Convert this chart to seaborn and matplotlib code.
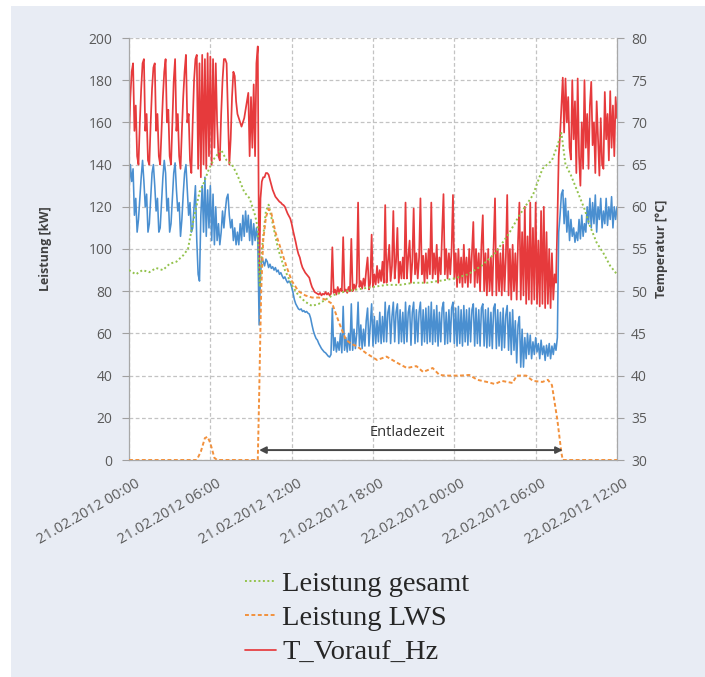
import numpy as np
import pandas as pd
import matplotlib
matplotlib.use("Agg")
import matplotlib.pyplot as plt
import seaborn as sns
from matplotlib.patches import Rectangle
from matplotlib.transforms import ScaledTranslation

# ---------------- data ----------------
xtick_hours = [0, 6, 12, 18, 24, 30, 36]
xtick_labels = ["21.02.2012 00:00", "21.02.2012 06:00", "21.02.2012 12:00",
                "21.02.2012 18:00", "22.02.2012 00:00", "22.02.2012 06:00",
                "22.02.2012 12:00"]
power_ticks = [0, 20, 40, 60, 80, 100, 120, 140, 160, 180, 200]
temp_ticks = [30, 35, 40, 45, 50, 55, 60, 65, 70, 75, 80]

# logger samples every 6 minutes (hours since 21.02.2012 00:00)
sample_hours = np.round(np.arange(361) * 0.1, 1)

t_vorauf_hz = [
    68, 73, 76, 77, 69, 72, 66, 65, 70, 74,
    77, 77.5, 69, 71, 65.5, 65, 70, 74, 76.5, 77,
    69, 71, 66, 65, 69, 73, 76, 77.5, 70, 71.5,
    66, 65, 70, 75, 77.5, 69, 71, 66, 64.5, 69,
    73, 76, 78, 70, 71, 65.5, 64, 70, 75, 77.5,
    78, 64.5, 77, 63.5, 78, 65, 77.5, 64.5, 78.2, 66,
    77.8, 65, 77.5, 67, 77, 70, 66, 65.5, 71, 75,
    77.5, 77.5, 77, 71, 65, 68, 73, 76, 75.5, 72.5,
    71, 70.5, 70, 69.5, 70, 70.5, 71.5, 72.5, 73.5, 66,
    73, 67, 74.5, 66, 77, 79, 51, 61, 63, 63.5,
    63.5, 64, 64, 63.8, 63.2, 62.6, 62, 61.6, 61.2, 61,
    60.8, 60.6, 60.5, 60.3, 60.2, 60, 59.6, 59.2, 58.9, 58.6,
    58, 57.2, 56.5, 55.8, 55, 54.4, 54, 53.3, 52.8, 52.5,
    52.2, 52, 51.8, 51.6, 51, 50.5, 50.2, 49.9, 49.8, 49.7,
    49.6, 49.8, 49.5, 49.7, 49.6, 49.9, 49.6, 49.8, 49.5, 49.7,
    55.2, 49.8, 50.2, 49.6, 50.5, 49.8, 50.3, 50, 56.4, 50,
    50.2, 49.8, 50.5, 50, 56.2, 50, 50.8, 50.2, 51, 60.5,
    50.5, 51.2, 50.3, 51.5, 50.6, 52.5, 54, 50.2, 51, 56.7,
    50.5, 52, 50.8, 53, 51, 52.5, 51.2, 53.5, 51, 60.2,
    51, 53.5, 55.5, 51.2, 53, 59.5, 51.5, 53.5, 57.5, 51,
    53.5, 51.5, 54, 51.5, 60.5, 51.5, 54, 56, 51, 53.5,
    59.8, 52, 54.5, 51.5, 54, 61, 52, 54.2, 51, 54.5,
    51.5, 55, 52, 60.5, 51.5, 54.5, 52, 55.5, 51, 54,
    52, 57, 61.5, 52, 55, 51.5, 54.5, 52, 55, 61.4,
    51.5, 54.5, 50.5, 55, 51, 54, 50.5, 55.5, 51, 54,
    50.5, 55, 51, 54.5, 58.2, 50.5, 55, 51, 54.5, 50,
    55.5, 59, 50, 54.5, 49.5, 55, 50, 54, 49.5, 55.5,
    61, 49.5, 55, 50, 54.5, 49.5, 55.5, 50, 54, 61.4,
    49.5, 55, 49, 55.5, 50, 54.5, 49, 56, 60.5, 49,
    57, 49.5, 60, 48.5, 56.5, 49, 60.5, 48.5, 57.5, 49,
    60.5, 48.5, 56, 48.2, 59.5, 48.5, 60, 48, 57, 48.5,
    55, 48, 54.5, 49, 52, 51, 58, 66, 68.5, 72,
    75.3, 68.8, 75.2, 70, 73, 67, 65.6, 75, 68, 72.5,
    64, 75.2, 66, 62.5, 70, 64.5, 75, 67, 71, 64.5,
    72, 74.8, 67.3, 70, 64, 72.5, 68, 63.7, 70.5, 65,
    64.5, 73.6, 68, 71, 65.5, 73.7, 67, 72, 66, 73,
    70.5]

t_ruecklauf = [
    62, 65, 63, 64.5, 59, 61, 57, 58.5, 61, 63.5,
    65.5, 63, 60, 61.5, 57, 58, 61, 64, 65, 62.5,
    59.5, 61, 57, 57.5, 60.5, 63.5, 65.5, 64, 59.5, 61,
    57, 58, 61, 64, 65.2, 62, 59.5, 60.5, 56.5, 58.5,
    61.5, 64, 65, 62, 59, 60.5, 57, 57.5, 60, 62.5,
    56, 52, 51.2, 59, 62.5, 57, 63.5, 56.5, 62, 57.5,
    62.5, 56, 61.5, 55.5, 60, 56, 58, 55.5, 57, 59.5,
    57.5, 59.5, 61, 61.5, 59, 57.5, 58.5, 56, 57.5, 55.5,
    57, 55.5, 58, 56, 59, 56.5, 59.5, 57, 59, 56,
    58.5, 55.5, 58, 56, 57.5, 56, 46, 52, 54, 53.5,
    53, 53.8, 53.5, 52.8, 53.2, 52.7, 52.9, 52.5, 52.8, 52.3,
    52.5, 52, 52.2, 51.8, 51.5, 51.7, 51.3, 51, 51.2, 51,
    50.5, 49.8, 49, 48.5, 48.2, 47.9, 47.8, 47.9, 47.6, 47.7,
    47.5, 47.6, 47.4, 47.3, 46.8, 46, 45.3, 44.8, 44.4, 44.2,
    43.8, 43.5, 43.2, 43, 42.8, 42.7, 42.5, 42.3, 42.2, 42.5,
    48, 43, 44.5, 42.8, 44, 43, 45, 42.7, 48.2, 43,
    44.5, 42.8, 45, 43, 48.5, 43, 45.5, 43.2, 45, 48.7,
    43.5, 46, 43.2, 45.5, 43.5, 46.5, 48, 43.5, 46, 48.5,
    43.5, 47, 43.8, 46.5, 44, 47.5, 43.8, 47, 44, 48.7,
    44, 47.5, 48.3, 43.8, 47, 48.7, 44, 47.5, 48.5, 43.8,
    47.8, 44, 47.5, 43.8, 48.7, 44, 47.5, 48.3, 43.6, 47.5,
    48.7, 43.8, 47.8, 44, 47.5, 48.7, 43.6, 47.8, 44, 48,
    43.8, 48.2, 44, 48.7, 43.7, 47.8, 44, 48.3, 43.5, 47.5,
    44, 48, 48.7, 43.7, 47.5, 43.8, 47.8, 44, 48, 48.7,
    43.8, 48, 43.5, 48.2, 43.8, 47.8, 43.5, 48.3, 44, 47.8,
    43.6, 48, 44, 47.8, 48.5, 43.5, 48, 43.8, 47.8, 43.5,
    48, 48.5, 43.5, 47.8, 43.3, 48, 43.5, 47.5, 43.2, 48,
    48.5, 43.2, 47.8, 43.5, 47.5, 43, 48, 43.3, 47.2, 48.3,
    43, 47.5, 42.5, 47.8, 43, 46.5, 41.5, 46, 47, 41,
    45.5, 41, 44.5, 42, 45, 42.5, 44.8, 42, 44, 42.5,
    44.5, 42.8, 43.8, 42, 44.2, 42.5, 43.5, 41.8, 43.6, 42.3,
    43.8, 42, 43.5, 42.5, 43.8, 43, 44.5, 57, 59, 61.5,
    62, 58, 61, 57, 59.5, 56, 58.5, 56.5, 57.5, 55.8,
    57, 56, 58.5, 56.2, 59, 56.5, 58, 57, 60, 58,
    61, 57.5, 60.5, 58, 61.4, 57, 60, 58.5, 61, 57.5,
    59.5, 58, 61, 57.8, 60, 58.5, 61.2, 57.5, 60, 58.5,
    60]

gesamt_hours = [0, 0.5, 1.0, 1.5, 2.0, 2.5, 3.0, 3.5, 4.0, 4.35, 4.7, 5.2, 5.5,
                5.9, 6.3, 6.8, 7.2, 7.6, 8.0, 8.5, 8.9, 9.3, 9.5, 9.65, 9.8,
                10.1, 10.3, 10.6, 11.0, 11.5, 12.0, 12.5, 13.0, 13.5, 14.0,
                14.5, 15.0, 16, 17, 18, 19, 20, 21, 22, 23, 24, 25, 26, 27,
                28, 28.8, 29.8, 30.5, 31.2, 31.6, 31.9, 32.2, 32.6, 33.1,
                33.6, 34.0, 34.5, 35.0, 35.5, 36.0]
leistung_gesamt = [90, 88, 90, 89, 91, 90, 93, 94, 97, 100, 112, 127, 131,
                   138, 143, 147, 142, 140, 135, 127, 124, 116, 110, 82, 100,
                   118, 121, 112, 100, 90, 83, 78, 75, 73, 74,
                   76, 78, 80, 81, 82, 83, 83, 84, 84, 85, 86, 88, 92, 98,
                   107, 116, 125.6, 138, 142, 149, 155, 140, 135, 127,
                   119, 111, 103, 98, 92, 88]

lws_hours = [0, 5.0, 5.3, 5.6, 5.8, 6.0, 6.3, 6.5, 9.5, 9.6, 9.75, 9.9, 10.1,
             10.3, 10.5, 10.8, 11.2, 11.6, 12.0, 12.5, 13.0, 13.5, 14.0, 14.5,
             15.0, 15.5, 16.0, 16.4, 16.8, 17.5, 18.3, 19.0, 19.8, 20.5, 21.2,
             21.7, 22.4, 22.9, 23.4, 24.4, 25.1, 25.7, 26.4, 27.0, 27.5, 28.3,
             28.6, 29.3, 29.8, 30.5, 30.9, 31.2, 31.6, 31.9, 32.0, 36.0]
leistung_lws = [0, 0, 4, 10.4, 11, 8, 1, 0, 0, 30, 80, 104, 115,
                119, 117, 108, 100, 92, 85, 80, 78, 77, 77, 76,
                74, 65, 57, 55, 54, 50.6, 47.4, 49, 46, 43.6, 44.5,
                41.7, 43.6, 40.3, 40, 40, 40.3, 38, 37, 36, 37.5, 36.5,
                40, 40, 37.5, 37, 38, 35.5, 19, 3.3, 0, 0]

entlade_start, entlade_end = 9.6, 32.0
legend_labels = ["Leistung gesamt", "Leistung LWS", "T_Vorauf_Hz"]

# ---------------- style ----------------
sns.set_style("white")
plt.rcParams["font.family"] = ["Open Sans", "DejaVu Sans"]

c_red = "#e63a3c"
c_blue = "#4a8fd0"
c_green = "#93c24c"
c_orange = "#f2913d"
c_grid = "#c3c3c3"
c_tick = "#5a5a5a"

fig = plt.figure(figsize=(7.05, 6.77), dpi=100, facecolor="white")
fig.patches.append(Rectangle((11 / 705, 0), 1, 1 - 6 / 677, transform=fig.transFigure,
                             facecolor="#e8ecf4", edgecolor="none", zorder=-10))

ax = fig.add_axes([129 / 705, 1 - 460 / 677, 488 / 705, 422 / 677])  # temperature
axp = ax.twinx()  # power (drawn on top)
ax.yaxis.tick_right()
ax.yaxis.set_label_position("right")
axp.yaxis.tick_left()
axp.yaxis.set_label_position("left")
ax.set_facecolor("white")

# temperature lines
sns.lineplot(x=sample_hours, y=t_vorauf_hz, ax=ax, color=c_red, linewidth=1.25,
             estimator=None, legend=False)
sns.lineplot(x=sample_hours, y=t_ruecklauf, ax=ax, color=c_blue, linewidth=1.15,
             estimator=None, legend=False)
line_red = ax.lines[0]

# power lines
sns.lineplot(x=gesamt_hours, y=leistung_gesamt, ax=axp, color=c_green, linewidth=1.4,
             estimator=None, legend=False)
sns.lineplot(x=lws_hours, y=leistung_lws, ax=axp, color=c_orange, linewidth=1.4,
             estimator=None, legend=False)
line_green, line_orange = axp.lines[0], axp.lines[1]
line_green.set_linestyle((0, (1, 1.3)))
line_orange.set_linestyle((0, (2, 1.3)))

ax.set_xlim(0, 36)
ax.set_ylim(30, 80)
axp.set_ylim(0, 200)
ax.set_yticks(temp_ticks)
axp.set_yticks(power_ticks)
ax.set_xticks(xtick_hours)
ax.set_xticklabels(xtick_labels, rotation=30, ha="right", va="top",
                   rotation_mode="anchor")

ax.grid(True, which="major", axis="both", color=c_grid, linestyle=(0, (3, 2)), linewidth=0.9)
ax.set_axisbelow(True)
axp.grid(False)

for a in (ax, axp):
    for s in a.spines.values():
        s.set_visible(False)
ax.spines["left"].set_visible(True)
ax.spines["right"].set_visible(True)
ax.spines["bottom"].set_visible(True)
for k in ("left", "right", "bottom"):
    ax.spines[k].set_color("#a8a8a8")
    ax.spines[k].set_linewidth(0.9)

ax.tick_params(axis="y", which="both", right=True, left=False, direction="out",
               length=5, width=0.8, color="#a0a0a0", labelsize=10,
               labelcolor=c_tick, pad=5)
axp.tick_params(axis="y", which="both", left=True, right=False, direction="out",
                length=5, width=0.8, color="#a0a0a0", labelsize=10,
                labelcolor=c_tick, pad=7)
ax.tick_params(axis="x", direction="out", length=4, width=0.8, color="#a0a0a0",
               labelsize=10.5, labelcolor=c_tick, pad=8)
for lab in ax.get_xticklabels():
    lab.set_transform(lab.get_transform() + ScaledTranslation(6 / 100, 0, fig.dpi_scale_trans))

ax.set_xlabel("")
axp.set_ylabel("Leistung [kW]", fontsize=9, fontweight="bold", color="#404040")
ax.set_ylabel("Temperatur [°C]", fontsize=9, fontweight="bold", color="#404040",
              rotation=90)
axp.yaxis.set_label_coords((45 - 129) / 488, 0.5)
ax.yaxis.set_label_coords((662 - 129) / 488, 0.5)
axp.yaxis.label.set_va("center")
ax.yaxis.label.set_va("center")

# Entladezeit arrow
axp.annotate("", xy=(entlade_start, 4.7), xytext=(entlade_end, 4.7),
             arrowprops=dict(arrowstyle="<|-|>", color="#474747", lw=1.4,
                             mutation_scale=10, shrinkA=0, shrinkB=0))
axp.text((entlade_start + entlade_end) / 2 - 0.3, 12.8, "Entladezeit", ha="center",
         va="center", fontsize=10.5, color="#333333")

# legend
fig.legend(handles=[line_green, line_orange, line_red], labels=legend_labels,
           loc="upper left", bbox_to_anchor=(245 / 705, 1 - 571 / 677),
           frameon=False, prop={"family": "Liberation Serif", "size": 20.5},
           handlelength=1.1, handletextpad=0.2, labelspacing=0.3,
           borderpad=0, borderaxespad=0, labelcolor="#262626")

fig.savefig("out.png", dpi=100, facecolor=fig.get_facecolor())
